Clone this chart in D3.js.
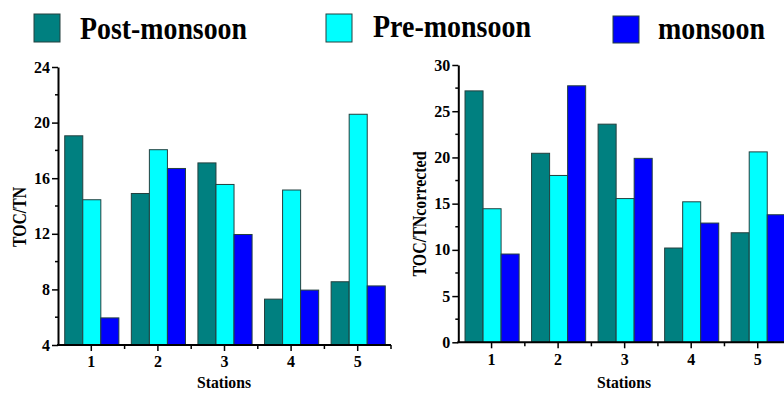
<!DOCTYPE html>
<html>
<head>
<meta charset="utf-8">
<script src="https://cdn.jsdelivr.net/npm/d3@7/dist/d3.min.js"></script>
<style>
html,body{margin:0;padding:0;background:#fff;}
svg{display:block;}
text{font-family:"Liberation Serif","Times New Roman",serif;font-weight:bold;fill:#000;}
</style>
</head>
<body>
<svg id="chart" width="784" height="393"></svg>
<script>
// ---- data ----
const stations = ["1", "2", "3", "4", "5"];
const seriesNames = ["Post-monsoon", "Pre-monsoon", "monsoon"];
const seriesColors = ["#008080", "#00FFFF", "#0000FF"];

const tocTnPost = [19.05, 14.9, 17.1, 7.3, 8.55];
const tocTnPre = [14.45, 18.05, 15.55, 15.15, 20.6];
const tocTnMonsoon = [5.95, 16.7, 11.95, 7.95, 8.25];

const corrPost = [27.2, 20.45, 23.6, 10.2, 11.85];
const corrPre = [14.45, 18.05, 15.55, 15.2, 20.6];
const corrMonsoon = [9.55, 27.75, 19.9, 12.9, 13.8];

const leftTicks = [4, 8, 12, 16, 20, 24];
const leftMinor = [6, 10, 14, 18, 22];
const rightTicks = [0, 5, 10, 15, 20, 25, 30];
const rightMinor = [2.5, 7.5, 12.5, 17.5, 22.5, 27.5];

const svg = d3.select("#chart");
const FONT = "'Liberation Serif','Times New Roman',serif";

function panel(cfg) {
  const g = svg.append("g");
  const x = d3.scaleBand().domain(stations).range([cfg.x0, cfg.x1])
    .paddingInner(0.187).paddingOuter(0.0935);
  const xs = d3.scaleBand().domain(seriesNames).range([0, x.bandwidth()]).padding(0);
  const y = d3.scaleLinear().domain(cfg.domain).range([cfg.yb, cfg.yt]);

  const rows = stations.map((s, i) => ({
    station: s,
    vals: seriesNames.map((n, k) => ({ name: n, k: k, v: cfg.series[k][i] }))
  }));

  const grp = g.selectAll("g.st").data(rows).join("g")
    .attr("transform", d => `translate(${x(d.station)},0)`);
  grp.selectAll("rect").data(d => d.vals).join("rect")
    .attr("x", d => xs(d.name) + 0.5)
    .attr("width", xs.bandwidth())
    .attr("y", d => y(d.v))
    .attr("height", d => y(cfg.domain[0]) - y(d.v))
    .attr("fill", d => seriesColors[d.k])
    .attr("stroke", "#24403f")
    .attr("stroke-width", 1);

  // y axis
  const ya = g.append("g").attr("transform", `translate(${cfg.x0},0)`)
    .call(d3.axisLeft(y).tickValues(cfg.ticks).tickSize(6).tickSizeOuter(0).tickPadding(2).tickFormat(d3.format("d")));
  ya.attr("font-family", FONT).attr("font-size", 16).attr("font-weight", "bold");
  ya.select(".domain").attr("stroke", "#000").attr("stroke-width", 2);
  ya.selectAll(".tick line").attr("stroke", "#000").attr("stroke-width", 1.5);
  ya.selectAll("line.minor").data(cfg.minor).join("line").attr("class", "minor")
    .attr("x1", -3).attr("x2", 0).attr("y1", d => y(d)).attr("y2", d => y(d))
    .attr("stroke", "#000").attr("stroke-width", 1.5);

  // x axis
  const xa = g.append("g").attr("transform", `translate(0,${cfg.yb})`)
    .call(d3.axisBottom(x).tickSize(6).tickSizeOuter(0).tickPadding(5));
  xa.attr("font-family", FONT).attr("font-size", 16).attr("font-weight", "bold");
  xa.select(".domain").attr("stroke", "#000").attr("stroke-width", 2)
    .attr("d", `M${cfg.x0 - 1},0H${cfg.x1}`);
  xa.selectAll(".tick line").attr("stroke", "#000").attr("stroke-width", 1.5);
  const bounds = stations.slice(1).map(s => x(s) - x.step() * x.paddingInner() / 2).concat([cfg.x1]);
  xa.selectAll("line.minor").data(bounds).join("line").attr("class", "minor")
    .attr("x1", d => d).attr("x2", d => d).attr("y1", 0).attr("y2", 4)
    .attr("stroke", "#000").attr("stroke-width", 1.5);

  // titles
  g.append("text").attr("x", cfg.sx).attr("y", 388).attr("text-anchor", "middle")
    .attr("textLength", 54).attr("lengthAdjust", "spacingAndGlyphs")
    .style("font-size", "17px").text("Stations");
  g.append("text")
    .attr("transform", `translate(${cfg.tx},${cfg.ty}) rotate(-90)`)
    .attr("text-anchor", "middle")
    .attr("textLength", cfg.tLen).attr("lengthAdjust", "spacingAndGlyphs")
    .style("font-size", "18px").text(cfg.title);
}

panel({
  x0: 58, x1: 391, yt: 67, yb: 345, domain: [4, 24],
  ticks: leftTicks, minor: leftMinor,
  series: [tocTnPost, tocTnPre, tocTnMonsoon],
  title: "TOC/TN", tx: 26, ty: 217, tLen: 60, sx: 224
});
panel({
  x0: 458.3, x1: 791, yt: 65, yb: 342.3, domain: [0, 30],
  ticks: rightTicks, minor: rightMinor,
  series: [corrPost, corrPre, corrMonsoon],
  title: "TOC/TNcorrected", tx: 426, ty: 214, tLen: 125, sx: 624
});

// legend
const legendItems = [
  { sx: 34, sy: 14, sw: 26, sh: 28, tx: 80, ty: 39, tl: 167 },
  { sx: 326, sy: 14, sw: 26, sh: 28, tx: 373, ty: 37, tl: 158 },
  { sx: 613, sy: 16, sw: 26, sh: 27, tx: 658, ty: 39, tl: 107 }
];
const lg = svg.append("g");
legendItems.forEach((p, k) => {
  lg.append("rect").attr("x", p.sx).attr("y", p.sy).attr("width", p.sw).attr("height", p.sh)
    .attr("fill", seriesColors[k]).attr("stroke", "#24403f").attr("stroke-width", 1);
  lg.append("text").attr("x", p.tx).attr("y", p.ty)
    .attr("textLength", p.tl).attr("lengthAdjust", "spacingAndGlyphs")
    .style("font-size", "31px").text(seriesNames[k]);
});
</script>
</body>
</html>
